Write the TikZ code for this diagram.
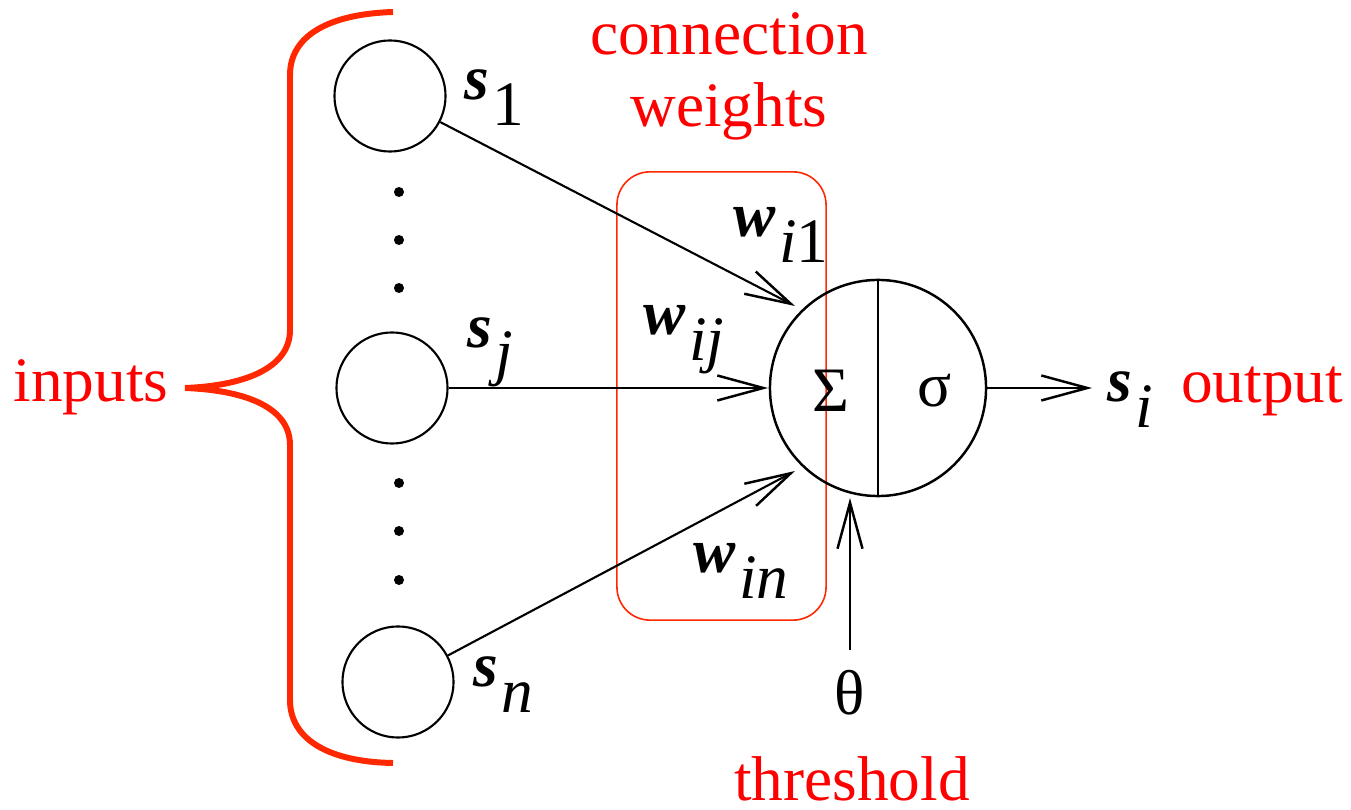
\documentclass[tikz,border=0pt]{standalone}
\usepackage{fontspec}
\setmainfont{Liberation Serif}
\usetikzlibrary{arrows.meta}
\definecolor{bracered}{RGB}{255, 40, 0}
\definecolor{labelred}{RGB}{255, 0, 0}
\newcommand{\symsub}[2]{\textbf{\textit{#1}}\hspace{0.06em}\raisebox{-0.4em}{#2}}

\begin{document}
\begin{tikzpicture}[x=0.01cm, y=-0.01cm, line width=0.6pt, font=\fontsize{18}{21}\selectfont]
    \tikzset{
        unit/.style={circle, draw, minimum size=1.11cm, inner sep=0pt},
        neuronbody/.style={circle, draw, minimum size=2.16cm, inner sep=0pt, line width=0.7pt},
        wire/.style={-{Straight Barb[length=0.46cm, width=0.25cm, line width=0.7pt]}},
        note/.style={text=labelred, anchor=base, inner sep=0pt},
        sym/.style={anchor=base west, inner sep=0pt}
    }
    \useasboundingbox (0,0) rectangle (1351,810);

    % input units
    \node[unit] (s1) at (390,96) {};
    \node[unit] (sj) at (392,388) {};
    \node[unit] (sn) at (398,682) {};
    \foreach \y in {192,240,288,483,531,580}
        \fill (399,\y) circle[radius=0.05cm];

    % brace round the inputs
    \draw[bracered, line width=1.7pt] (393,12) .. controls (330,14) and (290,35) .. (290,75)
        -- (290,330) .. controls (290,370) and (240,386) .. (185,388)
        .. controls (240,390) and (290,405) .. (290,445)
        -- (290,700) .. controls (290,740) and (330,762) .. (393,763);

    % weights box
    \node[draw=bracered, rounded corners=0.33cm, line width=0.45pt,
          minimum width=2.09cm, minimum height=4.48cm] (wbox) at (721.5,396) {};

    % neuron
    \node[neuronbody] (neuron) at (878,388) {};
    \draw[line width=0.7pt] (neuron.north) -- (neuron.south);
    \node[anchor=base, inner sep=0pt] (sum) at (831,412) {Σ};
    \node[anchor=base, inner sep=0pt] (act) at (935,407) {σ};

    \coordinate (tip1) at (795,306);
    \coordinate (tipj) at (768,388);
    \coordinate (tipn) at (795,471);
    \coordinate (outtip) at (1092,388);
    \coordinate (thtip) at (850,498);
    \draw[wire] (s1) -- (tip1);
    \draw[wire] (sj) -- (tipj);
    \draw[wire] (sn) -- (tipn);
    \draw[wire] (neuron) -- (outtip);

    \node[anchor=base, inner xsep=0pt, inner ysep=0.2cm] (theta) at (850,715) {θ};
    \draw[wire] (theta.north) -- (thtip);

    % symbols
    \node[sym] (lbl1) at (463,100) {\symsub{s}{1}};
    \node[sym] (lblj) at (466,348) {\symsub{s}{\itshape j}};
    \node[sym] (lbln) at (472,687) {\symsub{s}{\itshape n}};
    \node[sym] (lblw1) at (732,237) {\symsub{w}{{\itshape i}1}};
    \node[sym] (lblwj) at (642,335) {\symsub{w}{\itshape ij}};
    \node[sym] (lblwn) at (692,573) {\symsub{w}{\itshape in}};
    \node[sym] (lblout) at (1106,402) {\symsub{s}{\itshape i}};

    % red notes
    \node[note] (inputs) at (91,402) {inputs};
    \node[note] (output) at (1262,403) {output};
    \node[note] (threshold) at (852,801) {threshold};
    \node[note] (conn) at (729,55) {connection};
    \node[note] (weights) at (729,127) {weights};
\end{tikzpicture}
\end{document}
